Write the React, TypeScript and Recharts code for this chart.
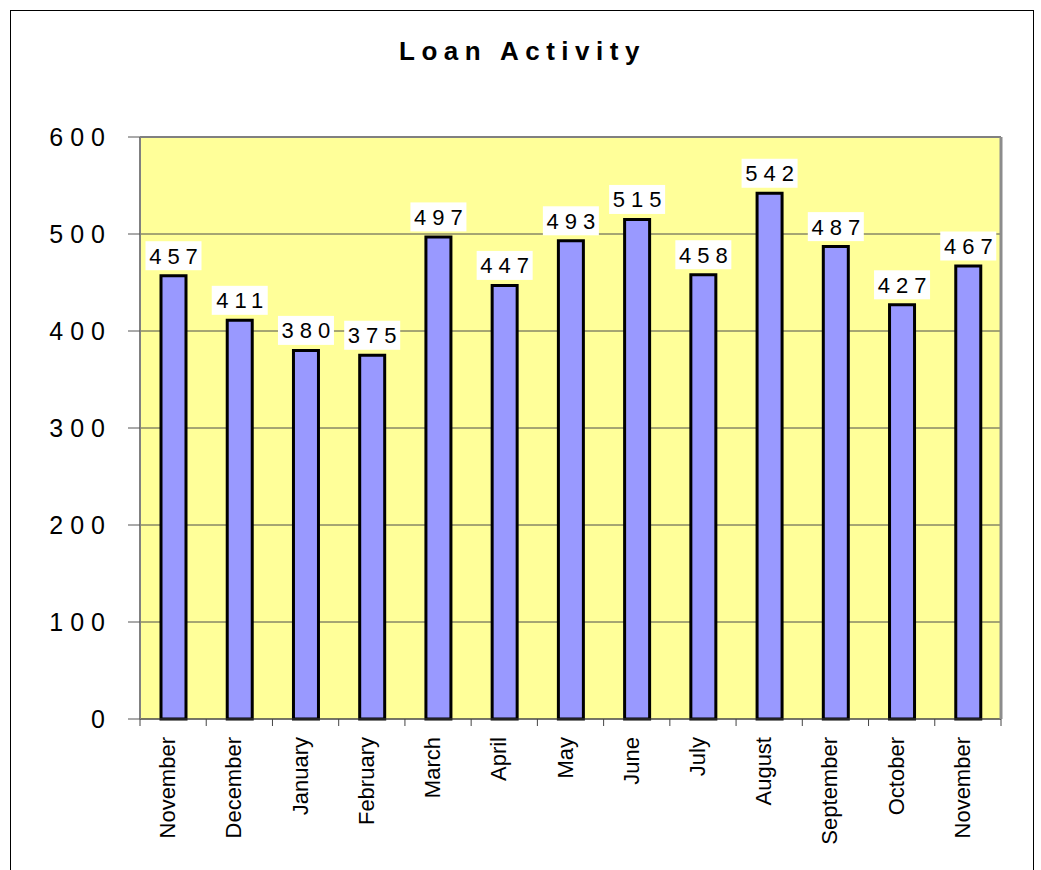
import React from "react";
import {
  BarChart,
  Bar,
  XAxis,
  YAxis,
  CartesianGrid,
  LabelList,
} from "recharts";

const months = [
  "November",
  "December",
  "January",
  "February",
  "March",
  "April",
  "May",
  "June",
  "July",
  "August",
  "September",
  "October",
  "November",
];
const loans = [457, 411, 380, 375, 497, 447, 493, 515, 458, 542, 487, 427, 467];
const yTicks = [0, 100, 200, 300, 400, 500, 600];

const data = months.map((m, i) => ({ key: `${m}-${i}`, month: m, loans: loans[i] }));

const W = 1041;
const H = 870;
const PLOT_LEFT = 140;
const PLOT_RIGHT = 40;
const BAND = (W - PLOT_LEFT - PLOT_RIGHT) / months.length;
const FONT = "'Liberation Sans', Arial, Helvetica, sans-serif";

function MonthTick(props: any) {
  const { x, y, index } = props;
  const label = months[index];
  return (
    <g>
      <line x1={x - BAND / 2} y1={y} x2={x - BAND / 2} y2={y + 7} stroke="#444" strokeWidth={1} />
      {index === months.length - 1 && (
        <line x1={x + BAND / 2} y1={y} x2={x + BAND / 2} y2={y + 7} stroke="#444" strokeWidth={1} />
      )}
      <text
        x={x + 2}
        y={y + 18}
        transform={`rotate(-90, ${x + 2}, ${y + 18})`}
        textAnchor="end"
        fontSize={22}
        fontFamily={FONT}
        fill="#000"
      >
        {label}
      </text>
    </g>
  );
}

function ValueTick(props: any) {
  const { x, y, payload } = props;
  return (
    <text
      x={x}
      y={y}
      dy="0.36em"
      textAnchor="end"
      fontSize={25}
      letterSpacing={7}
      fontFamily={FONT}
      fill="#000"
    >
      {payload.value}
    </text>
  );
}

function ValueLabel(props: any) {
  const { x, y, width, value } = props;
  const cx = x + width / 2;
  const cy = y - 20;
  return (
    <g>
      <rect x={cx - 28} y={cy - 14.5} width={56} height={29} fill="#fff" />
      <text
        x={cx + 3}
        y={cy}
        dy="0.36em"
        textAnchor="middle"
        fontSize={22}
        letterSpacing={6}
        fontFamily={FONT}
        fill="#000"
      >
        {value}
      </text>
    </g>
  );
}

export default function App() {
  return (
    <div
      style={{
        position: "absolute",
        left: 0,
        top: 0,
        width: W,
        height: H,
        overflow: "hidden",
        background: "#fff",
      }}
    >
      <div
        style={{
          position: "absolute",
          left: 10,
          top: 10,
          width: 1022,
          height: 900,
          border: "1px solid #000",
        }}
      />
      <div
        style={{
          position: "absolute",
          left: 0,
          top: 36,
          width: W,
          paddingLeft: 4,
          boxSizing: "border-box",
          textAlign: "center",
          fontFamily: FONT,
          fontWeight: "bold",
          fontSize: 26,
          letterSpacing: 6.5,
          color: "#000",
        }}
      >
        Loan Activity
      </div>
      <div style={{ position: "absolute", left: 0, top: 0 }}>
        <BarChart
          width={W}
          height={H}
          data={data}
          margin={{ top: 136, right: 0, bottom: 0, left: 0 }}
        >
          <CartesianGrid
            vertical={false}
            fill="#FFFF99"
            fillOpacity={1}
            stroke="#4d4d4d"
            strokeWidth={1}
          />
          <XAxis
            dataKey="key"
            height={151}
            interval={0}
            tickSize={0}
            tickMargin={0}
            tickLine={false}
            axisLine={{ stroke: "#444", strokeWidth: 1 }}
            tick={<MonthTick />}
          />
          <XAxis
            xAxisId="top"
            dataKey="key"
            orientation="top"
            height={1}
            tick={false}
            tickLine={false}
            axisLine={{ stroke: "#808080", strokeWidth: 2 }}
          />
          <YAxis
            width={PLOT_LEFT}
            domain={[0, 600]}
            ticks={yTicks}
            interval={0}
            tickSize={12}
            tickMargin={16}
            tickLine={{ stroke: "#555", strokeWidth: 1 }}
            axisLine={{ stroke: "#808080", strokeWidth: 2 }}
            tick={<ValueTick />}
          />
          <YAxis
            yAxisId="right"
            orientation="right"
            width={PLOT_RIGHT}
            domain={[0, 600]}
            tick={false}
            tickLine={false}
            axisLine={{ stroke: "#8c8c8c", strokeWidth: 3 }}
          />
          <Bar
            dataKey="loans"
            barSize={25}
            fill="#9999FF"
            stroke="#000"
            strokeWidth={3}
            isAnimationActive={false}
          >
            <LabelList dataKey="loans" content={<ValueLabel />} />
          </Bar>
        </BarChart>
      </div>
    </div>
  );
}
